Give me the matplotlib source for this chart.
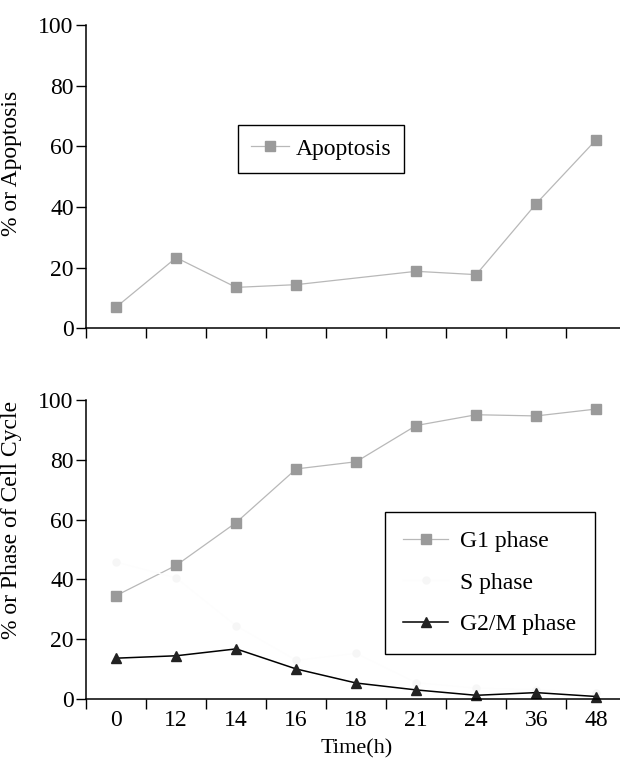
import matplotlib
matplotlib.use("Agg")
import matplotlib.pyplot as plt
import numpy as np

plt.rcParams['font.family'] = ['Liberation Serif', 'DejaVu Serif']
plt.rcParams['font.size'] = 17

times = ['0', '12', '14', '16', '18', '21', '24', '36', '48']

# apoptosis has no value at 18 h
apop_times = ['0', '12', '14', '16', '21', '24', '36', '48']
apoptosis = [7.0, 23.3, 13.5, 14.4, 18.8, 17.7, 41.1, 62.2]

g1_phase = [34.6, 44.7, 59.0, 76.9, 79.3, 91.4, 95.0, 94.6, 96.9]
s_phase = [45.8, 40.5, 24.5, 13.0, 15.3, 5.5, 3.7, 3.2, 2.2]
g2m_phase = [13.7, 14.5, 16.8, 10.1, 5.4, 3.1, 1.3, 2.2, 0.9]

xpos = np.arange(len(times))
apop_x = [times.index(t) for t in apop_times]

fig = plt.figure(figsize=(6.2, 7.6), dpi=100)
ax1 = fig.add_axes([0.139, 0.568, 0.871, 0.399])
ax2 = fig.add_axes([0.139, 0.080, 0.871, 0.394])

grey_line = '#b8b8b8'
grey_mark = '#9a9a9a'


def style(ax, show_labels):
    for s in ['top', 'right']:
        ax.spines[s].set_visible(False)
    ax.spines['left'].set_linewidth(1.1)
    ax.spines['bottom'].set_linewidth(1.1)
    ax.set_xlim(-0.5, len(times) - 0.5)
    ax.set_ylim(0, 100)
    ax.set_yticks([0, 20, 40, 60, 80, 100])
    ax.tick_params(axis='y', direction='out', length=7, width=1, pad=2)
    ax.set_xticks(xpos)
    ax.set_xticks(np.arange(-0.5, len(times)), minor=True)
    ax.tick_params(axis='x', which='major', length=0, pad=8)
    ax.tick_params(axis='x', which='minor', direction='out', length=7, width=1)
    if show_labels:
        ax.set_xticklabels(times)
    else:
        ax.set_xticklabels([])


# top panel
ax1.plot(apop_x, apoptosis, color=grey_line, lw=0.9, marker='s', ms=6.5,
         mfc=grey_mark, mec=grey_mark, label='Apoptosis', clip_on=False)
style(ax1, False)
ax1.set_ylabel('% or Apoptosis')
ax1.yaxis.set_label_coords(-0.118, 0.545)
leg1 = ax1.legend(loc='center', bbox_to_anchor=(0.518, 0.804),
                  bbox_transform=fig.transFigure, fancybox=False,
                  edgecolor='black', framealpha=1, handlelength=1.6,
                  borderpad=0.55, handletextpad=0.3, borderaxespad=0)
leg1.get_frame().set_linewidth(1.0)

# bottom panel
ax2.plot(xpos, g1_phase, color=grey_line, lw=0.9, marker='s', ms=6.5,
         mfc=grey_mark, mec=grey_mark, label='G1 phase', clip_on=False)
ax2.plot(xpos, s_phase, color='#fdfdfd', lw=0.8, marker='o', ms=5,
         mfc='#f6f6f6', mec='#f6f6f6', label='S phase', clip_on=False)
ax2.plot(xpos, g2m_phase, color='black', lw=1.1, marker='^', ms=7,
         mfc='#222222', mec='#222222', label='G2/M phase', clip_on=False)
style(ax2, True)
ax2.set_ylabel('% or Phase of Cell Cycle')
ax2.yaxis.set_label_coords(-0.118, 0.6)
ax2.set_xlabel('Time(h)', fontsize=16)
ax2.xaxis.set_label_coords(0.5, -0.135)
leg2 = ax2.legend(loc='center', bbox_to_anchor=(0.790, 0.233),
                  bbox_transform=fig.transFigure, fancybox=False,
                  edgecolor='black', framealpha=1, handlelength=1.9,
                  borderpad=0.8, labelspacing=0.85, handletextpad=0.5,
                  borderaxespad=0)
leg2.get_frame().set_linewidth(1.0)

fig.savefig('out.png', dpi=100)
